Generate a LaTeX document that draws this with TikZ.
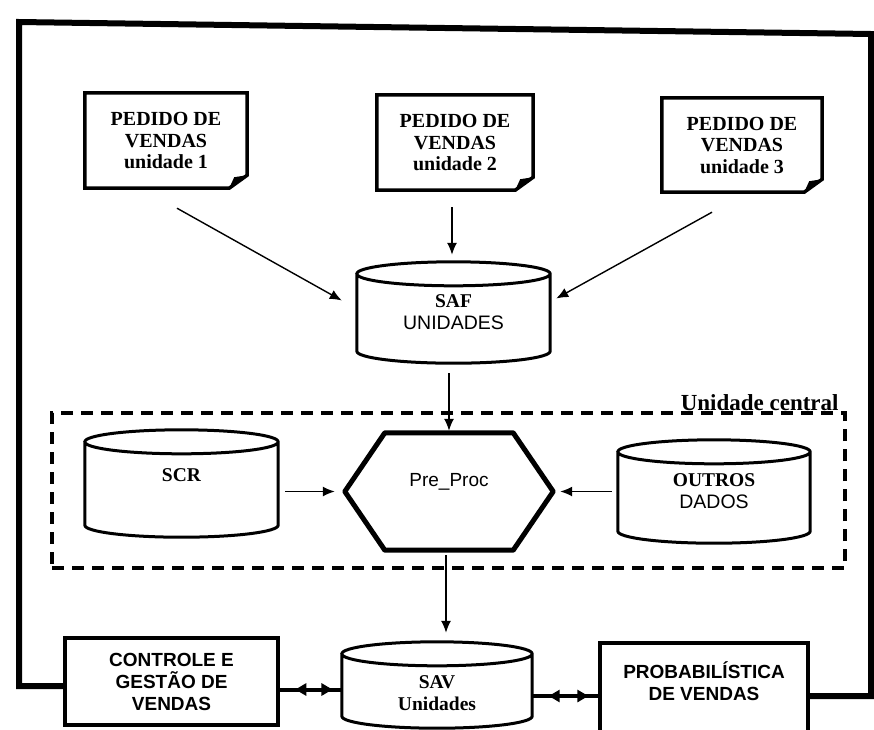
\documentclass[tikz,border=0pt]{standalone}
\usepackage{fontspec}
\setmainfont{Liberation Serif}
\setsansfont{Liberation Sans}
\usetikzlibrary{calc,arrows.meta,decorations.markings}

\begin{document}
\begin{tikzpicture}[x=1pt,y=-1pt,
    pedido/.style={rectangle, align=center, inner sep=0pt,
      font=\fontsize{20}{21.5}\selectfont\bfseries},
    banco/.style={rectangle, align=center, inner sep=0pt,
      font=\fontsize{19.5}{22}\selectfont\bfseries},
    caixa/.style={rectangle, draw, line width=3.5pt, align=center,
      inner sep=0pt, font=\fontsize{19}{22}\selectfont\sffamily\bfseries},
    seta/.style={line width=1.4pt, -{Latex[length=12pt,width=10pt]}},
    dupla/.style={line width=4pt, postaction={decorate},
      decoration={markings,
        mark=at position 0.25 with {\arrowreversed{Triangle[length=11pt,width=12pt]}},
        mark=at position 0.85 with {\arrow{Triangle[length=11pt,width=12pt]}}}},
    moldura/.style={line width=6pt, line join=miter}]
  \useasboundingbox (0,0) rectangle (874,729);

  % pedidos de vendas das unidades
  \node[pedido, minimum width=162pt, minimum height=95pt] (p1) at (166,140.5)
    {PEDIDO DE\\VENDAS\\unidade 1};
  \node[pedido, minimum width=156pt, minimum height=95pt] (p2) at (455,142.5)
    {PEDIDO DE\\VENDAS\\unidade 2};
  \node[pedido, minimum width=160pt, minimum height=94pt] (p3) at (742,145)
    {PEDIDO DE\\VENDAS\\unidade 3};
  \foreach \p in {p1,p2,p3} {
    \draw[line width=3.5pt, line join=miter] (\p.north west) -- (\p.north east)
      -- ([yshift=13pt]\p.south east) -- ([xshift=-18pt]\p.south east)
      -- (\p.south west) -- cycle;
    \fill ([yshift=13pt]\p.south east) -- ([xshift=-18pt]\p.south east)
      -- ([xshift=-13pt,yshift=11pt]\p.south east) -- cycle;
  }

  % bancos de dados
  \node[banco, minimum width=193pt, minimum height=101pt] (saf) at (453.5,312.5)
    {SAF\\{\sffamily\mdseries UNIDADES}};
  \node[banco, minimum width=193pt, minimum height=107pt,
    label={[font=\fontsize{19.5}{22}\selectfont\bfseries, yshift=8.5pt]center:SCR}]
    (scr) at (181.5,483.5) {};
  \node[banco, minimum width=192pt, minimum height=103pt] (outros) at (714,491.5)
    {OUTROS\\{\sffamily\mdseries DADOS}};
  \node[banco, minimum width=190pt, minimum height=86pt,
    label={[align=center, font=\fontsize{19.5}{22}\selectfont\bfseries, yshift=-8pt]center:SAV\\Unidades}]
    (sav) at (437,685) {};
  \foreach \c in {saf,scr,outros,sav} {
    \draw[line width=3pt] let \p1=(\c.north west), \p2=(\c.south east),
      \n1={(\x2-\x1)/2} in
      ([yshift=-12pt]\c.north west) -- ([yshift=12pt]\c.south west)
      arc[start angle=180, end angle=360, x radius=\n1, y radius=12pt]
      -- ([yshift=-12pt]\c.north east)
      arc[start angle=0, end angle=360, x radius=\n1, y radius=12pt];
  }

  % pre-processamento
  \node[minimum width=208pt, minimum height=117pt, inner sep=0pt,
    label={[font=\fontsize{19}{22}\selectfont\sffamily, yshift=9.5pt]center:Pre\_Proc}]
    (pp) at (449,491.5) {};
  \draw[line width=5pt, line join=round] (pp.west) -- ([xshift=40pt]pp.north west)
    -- ([xshift=-40pt]pp.north east) -- (pp.east) -- ([xshift=-40pt]pp.south east)
    -- ([xshift=40pt]pp.south west) -- cycle;

  % unidade central
  \node[draw, line width=3.5pt, dash pattern=on 12pt off 8pt,
    minimum width=793pt, minimum height=155pt] (central) at (448.5,490.5) {};
  \node[anchor=base east, inner sep=0pt, font=\fontsize{23}{25}\selectfont\bfseries]
    (lblc) at ([xshift=-8pt,yshift=1pt]central.north east) {Unidade central};

  % sistemas de saida
  \node[caixa, minimum width=213pt, minimum height=87pt] (ctrl) at (171.5,681.5)
    {CONTROLE E\\GESTÃO DE\\VENDAS};
  \node[caixa, minimum width=208pt, minimum height=106pt,
    label={[align=center, font=\fontsize{19}{22}\selectfont\sffamily\bfseries, yshift=15pt]center:PROBABILÍSTICA\\DE VENDAS}]
    (prob) at (704,696) {};

  % fluxos
  \draw[seta] ([shift={(11,20)}]p1.south) -- ([shift={(-15,-12)}]saf.west);
  \draw[seta] ([shift={(-3,17)}]p2.south) -- ([shift={(-3,-7)}]p2.south |- saf.north);
  \draw[seta] ([shift={(-30,20)}]p3.south) -- ([shift={(6,-14)}]saf.east);
  \draw[seta] ([yshift=-10pt]pp.north |- saf.south) -- ([yshift=2pt]pp.north);
  \draw[seta] ([xshift=7pt]scr.east |- pp.west) -- ([xshift=-10pt]pp.west);
  \draw[seta] ([xshift=-6pt]outros.west |- pp.east) -- ([xshift=7pt]pp.east);
  \draw[seta] ([shift={(-3,5)}]pp.south) -- ([shift={(-3,-9)}]pp.south |- sav.north);
  \draw[dupla] ([yshift=-8pt]ctrl.east) -- ([yshift=-8pt]ctrl.east -| sav.west);
  \draw[dupla] (sav.east |- prob.west) -- (prob.west);

  % moldura
  \coordinate (tl) at (19,22);
  \coordinate (tr) at (871,34);
  \draw[moldura] ([yshift=-4.5pt]ctrl.west) -| (tl) -- (tr) |- (prob.east);
\end{tikzpicture}
\end{document}
